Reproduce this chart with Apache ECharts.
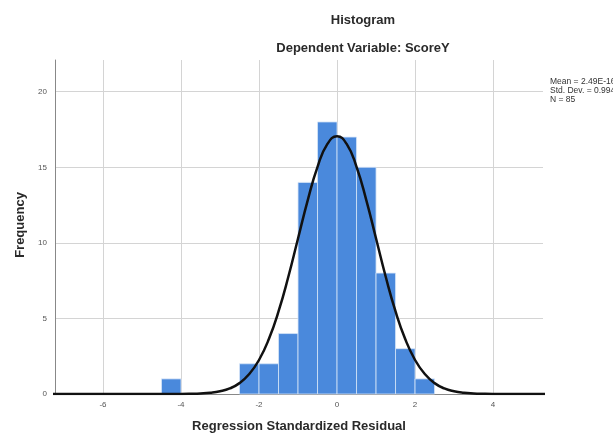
<!DOCTYPE html>
<html>
<head>
<meta charset="utf-8">
<script src="https://cdn.jsdelivr.net/npm/echarts@6/dist/echarts.min.js"></script>
<style>html,body{margin:0;padding:0;background:#fff}#c{width:613px;height:439px}</style>
</head>
<body>
<div id="c"></div>
<script>
// Histogram bins (start of each 0.5-wide bin) and frequencies
var binStarts = [-4.5, -2.5, -2.0, -1.5, -1.0, -0.5, 0.0, 0.5, 1.0, 1.5, 2.0];
var binWidth = 0.5;
var counts = [1, 2, 2, 4, 14, 18, 17, 15, 8, 3, 1];
// Normal curve
var curveX = [-7.5, -7.0, -6.5, -6.0, -5.5, -5.0, -4.5, -4.25, -4.0, -3.75, -3.5, -3.25, -3.0, -2.75, -2.5, -2.25, -2.0, -1.75, -1.5, -1.25, -1.0, -0.75, -0.5, -0.25, 0.0, 0.25, 0.5, 0.75, 1.0, 1.25, 1.5, 1.75, 2.0, 2.25, 2.5, 2.75, 3.0, 3.25, 3.5, 3.75, 4.0, 4.25, 4.5, 5.0, 5.5];
var curveY = [0, 0, 0, 0, 0, 0, 0, 0.001, 0.003, 0.014, 0.035, 0.08, 0.18, 0.37, 0.72, 1.32, 2.25, 3.62, 5.46, 7.74, 10.29, 12.83, 15.03, 16.53, 17.06, 16.53, 15.03, 12.83, 10.29, 7.74, 5.46, 3.62, 2.25, 1.32, 0.72, 0.37, 0.18, 0.08, 0.035, 0.014, 0.003, 0.001, 0, 0, 0];
var xTicks = [-6, -4, -2, 0, 2, 4];
var yTicks = [0, 5, 10, 15, 20];
var statsLines = ['Mean = 2.49E-16', 'Std. Dev. = 0.994', 'N = 85'];

var FONT = 'Liberation Sans, Arial, sans-serif';
var barData = binStarts.map(function (s, i) { return [s, s + binWidth, counts[i]]; });
var lineData = curveX.map(function (x, i) { return [x, curveY[i]]; });

var chart = echarts.init(document.getElementById('c'), null, { renderer: 'canvas' });
chart.setOption({
  animation: false,
  backgroundColor: '#ffffff',
  title: [
    { text: 'Histogram', left: 363, top: 14, textAlign: 'center', padding: 0,
      textStyle: { fontFamily: FONT, fontSize: 13, fontWeight: 'bold', color: '#2a2a2a' } },
    { text: 'Dependent Variable: ScoreY', left: 363, top: 42, textAlign: 'center', padding: 0,
      textStyle: { fontFamily: FONT, fontSize: 13, fontWeight: 'bold', color: '#2a2a2a' } }
  ],
  grid: { left: 55, right: 70, top: 60, bottom: 45 },
  xAxis: {
    type: 'value', min: -7.23, max: 5.28,
    axisLine: { show: true, onZero: false, lineStyle: { color: '#888', width: 1 } },
    axisTick: { show: false, customValues: xTicks },
    axisLabel: { customValues: xTicks, fontFamily: FONT, fontSize: 8, color: '#555', margin: 7 },
    splitLine: { show: true, lineStyle: { color: '#d4d4d4', width: 1 } }
  },
  yAxis: {
    type: 'value', min: 0, max: 22.1,
    axisLine: { show: true, onZero: false, lineStyle: { color: '#888', width: 1 } },
    axisTick: { show: false, customValues: yTicks },
    axisLabel: { customValues: yTicks, fontFamily: FONT, fontSize: 8, color: '#555', margin: 8 },
    splitLine: { show: true, lineStyle: { color: '#d4d4d4', width: 1 } }
  },
  series: [
    {
      type: 'custom',
      data: barData,
      encode: { x: [0, 1], y: 2 },
      renderItem: function (params, api) {
        var p0 = api.coord([api.value(0), api.value(2)]);
        var p1 = api.coord([api.value(1), 0]);
        return {
          type: 'rect',
          shape: { x: p0[0], y: p0[1], width: p1[0] - p0[0], height: p1[1] - p0[1] },
          style: { fill: '#4a89dc', stroke: '#d6e4f7', lineWidth: 0.8 }
        };
      },
      z: 2
    },
    {
      type: 'line',
      data: lineData,
      smooth: true,
      showSymbol: false,
      clip: true,
      lineStyle: { color: '#111', width: 2.5 },
      z: 3
    }
  ],
  graphic: [
    { type: 'text', position: [20, 225], rotation: Math.PI / 2,
      style: { text: 'Frequency', fontFamily: FONT, fontSize: 13, fontWeight: 'bold', fill: '#2a2a2a', align: 'center', verticalAlign: 'middle' } },
    { type: 'text', position: [299, 426],
      style: { text: 'Regression Standardized Residual', fontFamily: FONT, fontSize: 13, fontWeight: 'bold', fill: '#2a2a2a', align: 'center', verticalAlign: 'middle' } },
    { type: 'text', position: [550, 77],
      style: { text: statsLines.join('\n'), fontFamily: FONT, fontSize: 8.5, lineHeight: 9, fill: '#333', align: 'left', verticalAlign: 'top' } }
  ]
});
</script>
</body>
</html>
